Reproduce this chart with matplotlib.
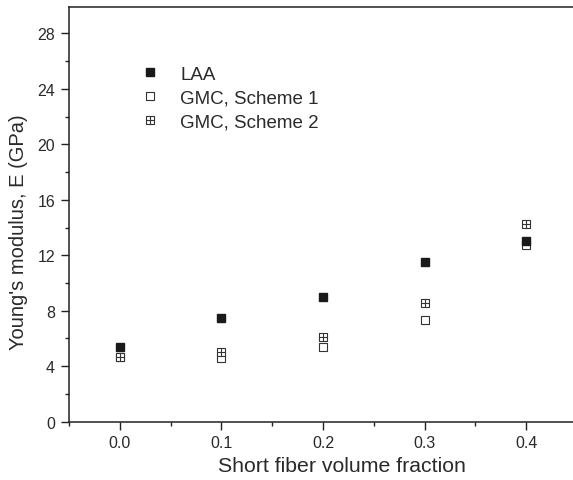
import matplotlib
matplotlib.use("Agg")
import matplotlib.pyplot as plt
from matplotlib.path import Path
from matplotlib.ticker import MultipleLocator

plt.rcParams['font.family'] = ['Liberation Sans', 'DejaVu Sans']

fraction = [0.0, 0.1, 0.2, 0.3, 0.4]
laa = [5.4, 7.5, 9.0, 11.5, 13.05]
gmc_scheme1 = [4.65, 4.6, 5.35, 7.3, 12.75]
gmc_scheme2 = [4.65, 5.05, 6.1, 8.55, 14.25]
x_ticks = [0.0, 0.1, 0.2, 0.3, 0.4]
y_ticks = [0, 4, 8, 12, 16, 20, 24, 28]

# custom markers
M, L, C = Path.MOVETO, Path.LINETO, Path.CLOSEPOLY
sq = [(-1, -1), (1, -1), (1, 1), (-1, 1), (-1, -1)]
sq_codes = [M, L, L, L, C]
d = 0.12
dot = [(-d, -d), (d, -d), (d, d), (-d, d), (-d, -d)]
marker_s1 = Path(sq + dot, sq_codes + sq_codes)
marker_s2 = Path(sq + [(-1, 0), (1, 0), (0, -1), (0, 1)], sq_codes + [M, L, M, L])

text_color = '#2a2a2a'

fig = plt.figure(figsize=(5.73, 4.81), dpi=100)
ax = fig.add_axes([69/573, (481-422.7)/481, (577-69)/573, (422.7-8)/481])

ax.plot(fraction, laa, linestyle='none', marker='s', markersize=5.8,
        color='#1a1a1a', label='LAA', zorder=3)
ax.plot(fraction, gmc_scheme1, linestyle='none', marker=marker_s1, markersize=5.8,
        markerfacecolor='white', markeredgecolor='#333333', markeredgewidth=0.8,
        label='GMC, Scheme 1', zorder=2)
ax.plot(fraction, gmc_scheme2, linestyle='none', marker=marker_s2, markersize=5.8,
        markerfacecolor='white', markeredgecolor='#333333', markeredgewidth=0.8,
        label='GMC, Scheme 2', zorder=2)

ax.set_xlim(-0.05, 0.45)
ax.set_ylim(0, 29.9)
ax.set_xticks(x_ticks)
ax.set_xticklabels([f"{v:.1f}" for v in x_ticks])
ax.set_yticks(y_ticks)
ax.xaxis.set_minor_locator(MultipleLocator(0.05))
ax.yaxis.set_minor_locator(MultipleLocator(2))
ax.tick_params(which='major', direction='out', length=5.5, width=1.0,
               labelsize=11.5, colors='#222222', labelcolor=text_color)
ax.tick_params(axis='x', which='major', pad=4)
ax.tick_params(axis='y', which='major', pad=4.5)
ax.tick_params(which='minor', direction='out', length=3, width=1.0, colors='#222222')
ax.tick_params(top=False, right=False)
for s in ax.spines.values():
    s.set_linewidth(1.1)
    s.set_color('#222222')

ax.set_xlabel('Short fiber volume fraction', fontsize=15.3, color=text_color)
ax.set_ylabel("Young's modulus, E (GPa)", fontsize=14.5, color=text_color)
ax.xaxis.set_label_coords(0.537, -0.083)
ax.yaxis.set_label_coords(-0.08, 0.46)

leg = ax.legend(loc='upper left', bbox_to_anchor=(0.141, 0.859), frameon=False,
                fontsize=13.5, handlelength=1.0, handletextpad=1.1,
                labelspacing=0.36, borderaxespad=0, borderpad=0)
for t in leg.get_texts():
    t.set_color(text_color)

fig.savefig('out.png', dpi=100)
